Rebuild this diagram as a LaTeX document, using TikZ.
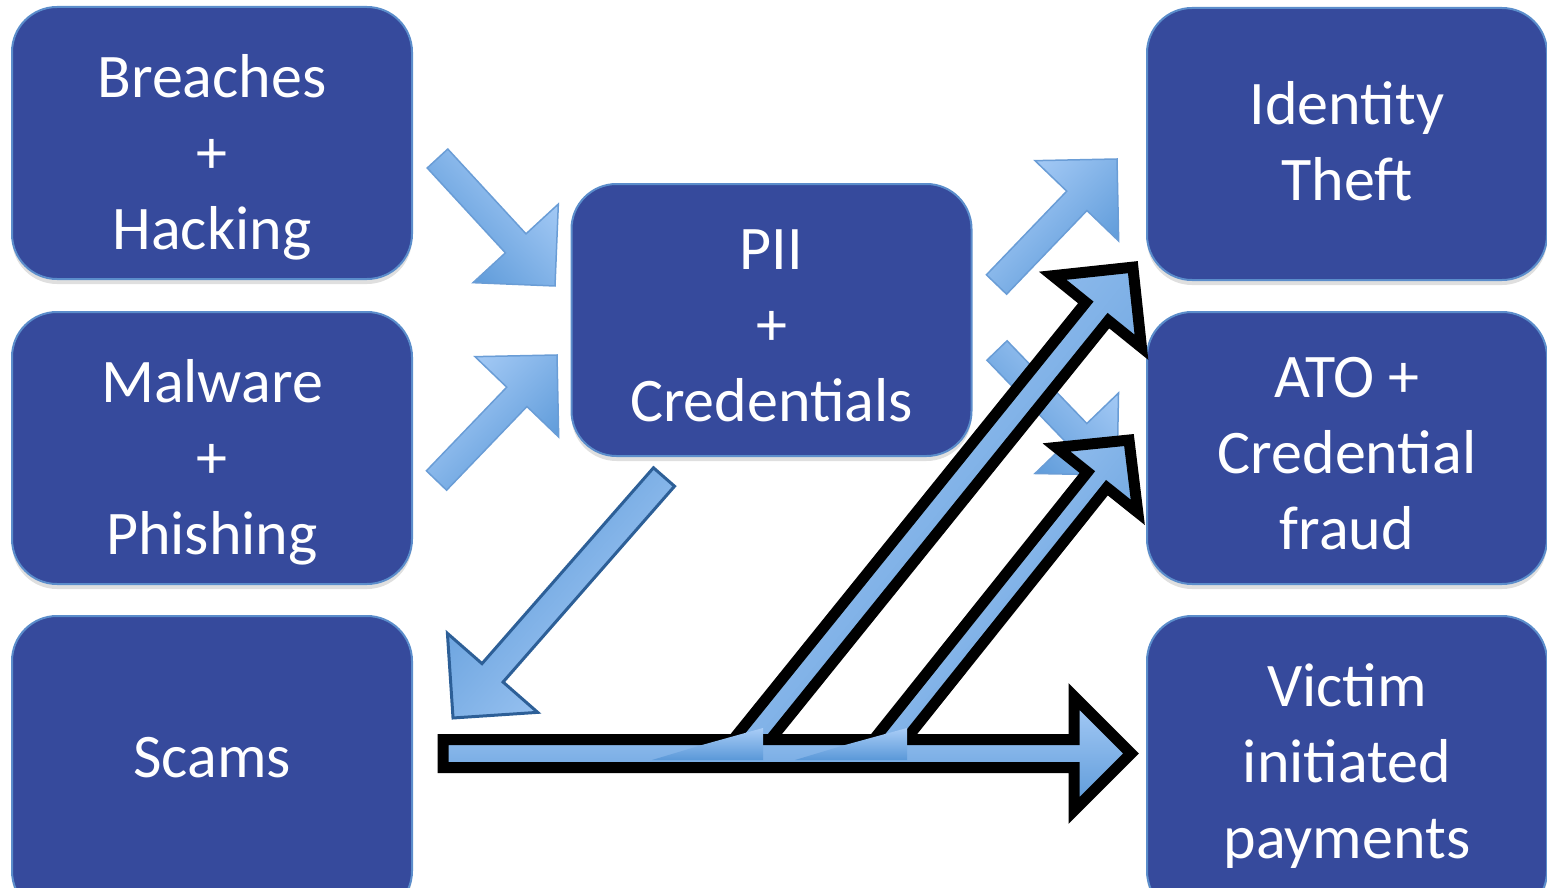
\documentclass[tikz,border=0pt]{standalone}
\usepackage{fontspec}
\setmainfont{Carlito}
\usetikzlibrary{shadows}
\definecolor{boxfill}{HTML}{364A9C}
\definecolor{boxedge}{HTML}{5B8DCB}
\definecolor{arrlight}{HTML}{A9CDF7}
\definecolor{arrdark}{HTML}{5A98D8}
\definecolor{arredge}{HTML}{6A9DD6}
\definecolor{arredgedark}{HTML}{2D5F97}
% #1 style, (#2,#3) tail centre, (#4,#5) tip, #6 shaft width, #7 head half width, #8 head length
\newcommand\blockarrow[8]{%
  \pgfmathsetmacro\baAng{atan2(-((#5)-(#3)),(#4)-(#2))}%
  \pgfmathsetmacro\baLen{veclen((#4)-(#2),(#5)-(#3))}%
  \pgfmathsetmacro\baNeck{\baLen-(#8)}%
  \pgfmathsetmacro\baW{(#6)/2}%
  \begin{scope}[shift={(#2,#3)},rotate=\baAng]
    \path[#1, shading angle=\baAng] (0,\baW) -- (\baNeck,\baW) -- (\baNeck,#7) -- (\baLen,0)
      -- (\baNeck,-#7) -- (\baNeck,-\baW) -- (0,-\baW) -- cycle;
  \end{scope}}
\tikzset{
  box/.style={draw=boxedge, line width=2pt, fill=boxfill, rounded corners=45pt,
    minimum width=400pt, minimum height=272pt, inner sep=0pt,
    drop shadow={shadow xshift=0pt, shadow yshift=-5pt, opacity=0.25}},
  boxtext/.style={text=white, align=center, inner sep=0pt,
    font=\fontsize{62}{76}\selectfont},
  lightarrow/.style={draw=arredge, line width=1.5pt, line join=miter,
    top color=arrlight, bottom color=arrdark},
  darkedgearrow/.style={draw=arredgedark, line width=3pt, line join=miter,
    top color=arrlight, bottom color=arrdark},
  blackarrow/.style={draw=black, line width=11pt, line join=miter,
    top color=arrlight, bottom color=arrdark},
  overlaytri/.style={top color=arrlight, bottom color=arrdark}
}
\begin{document}
\begin{tikzpicture}[x=1pt,y=-1pt]
\useasboundingbox (0,0) rectangle (1547,888);
% boxes
\node[box] (breach) at (212,143) {};
\node[box] (malware) at (212,448) {};
\node[box, minimum height=300pt] (scams) at (212,766) {};
\node[box] (pii) at (771.5,320) {};
\node[box] (idtheft) at (1347,144) {};
\node[box] (ato) at (1347,448) {};
\node[box, minimum height=300pt] (victim) at (1347,766) {};
% texts
\node[boxtext] (breachT) at (212,157) {Breaches\\+\\Hacking};
\node[boxtext] (malwareT) at (212,462) {Malware\\+\\Phishing};
\node[boxtext] (scamsT) at (212,758) {Scams};
\node[boxtext] (piiT) at (771.5,326) {PII\\+\\Credentials};
\node[boxtext] (idtheftT) at (1347,141) {Identity\\Theft};
\node[boxtext] (atoT) at (1347,454) {ATO +\\Credential\\fraud};
\node[boxtext] (victimT) at (1347,766) {Victim\\initiated\\payments};
% block arrows
\blockarrow{lightarrow}{437.5}{158.5}{555}{286}{28}{58}{58}
\blockarrow{lightarrow}{436.5}{480.5}{557}{355}{28}{58}{58}
\blockarrow{lightarrow}{996.5}{284.5}{1117}{159}{28}{58}{58}
\blockarrow{lightarrow}{997}{350.5}{1117}{475}{28}{58}{58}
\blockarrow{darkedgearrow}{664}{477}{453}{718}{28}{60}{60}
\blockarrow{blackarrow}{741}{753}{1133}{267}{29}{57}{57}
\blockarrow{blackarrow}{879}{753}{1129}{440}{25}{52}{51}
\blockarrow{blackarrow}{443}{753.5}{1131}{753.5}{28}{57}{57}
% overlap artefacts
\path[overlaytri] (652,760) -- (702,745) -- (763,728) -- (763,760) -- cycle;
\path[overlaytri] (795,760) -- (845,745) -- (907,728) -- (907,760) -- cycle;
\end{tikzpicture}
\end{document}
